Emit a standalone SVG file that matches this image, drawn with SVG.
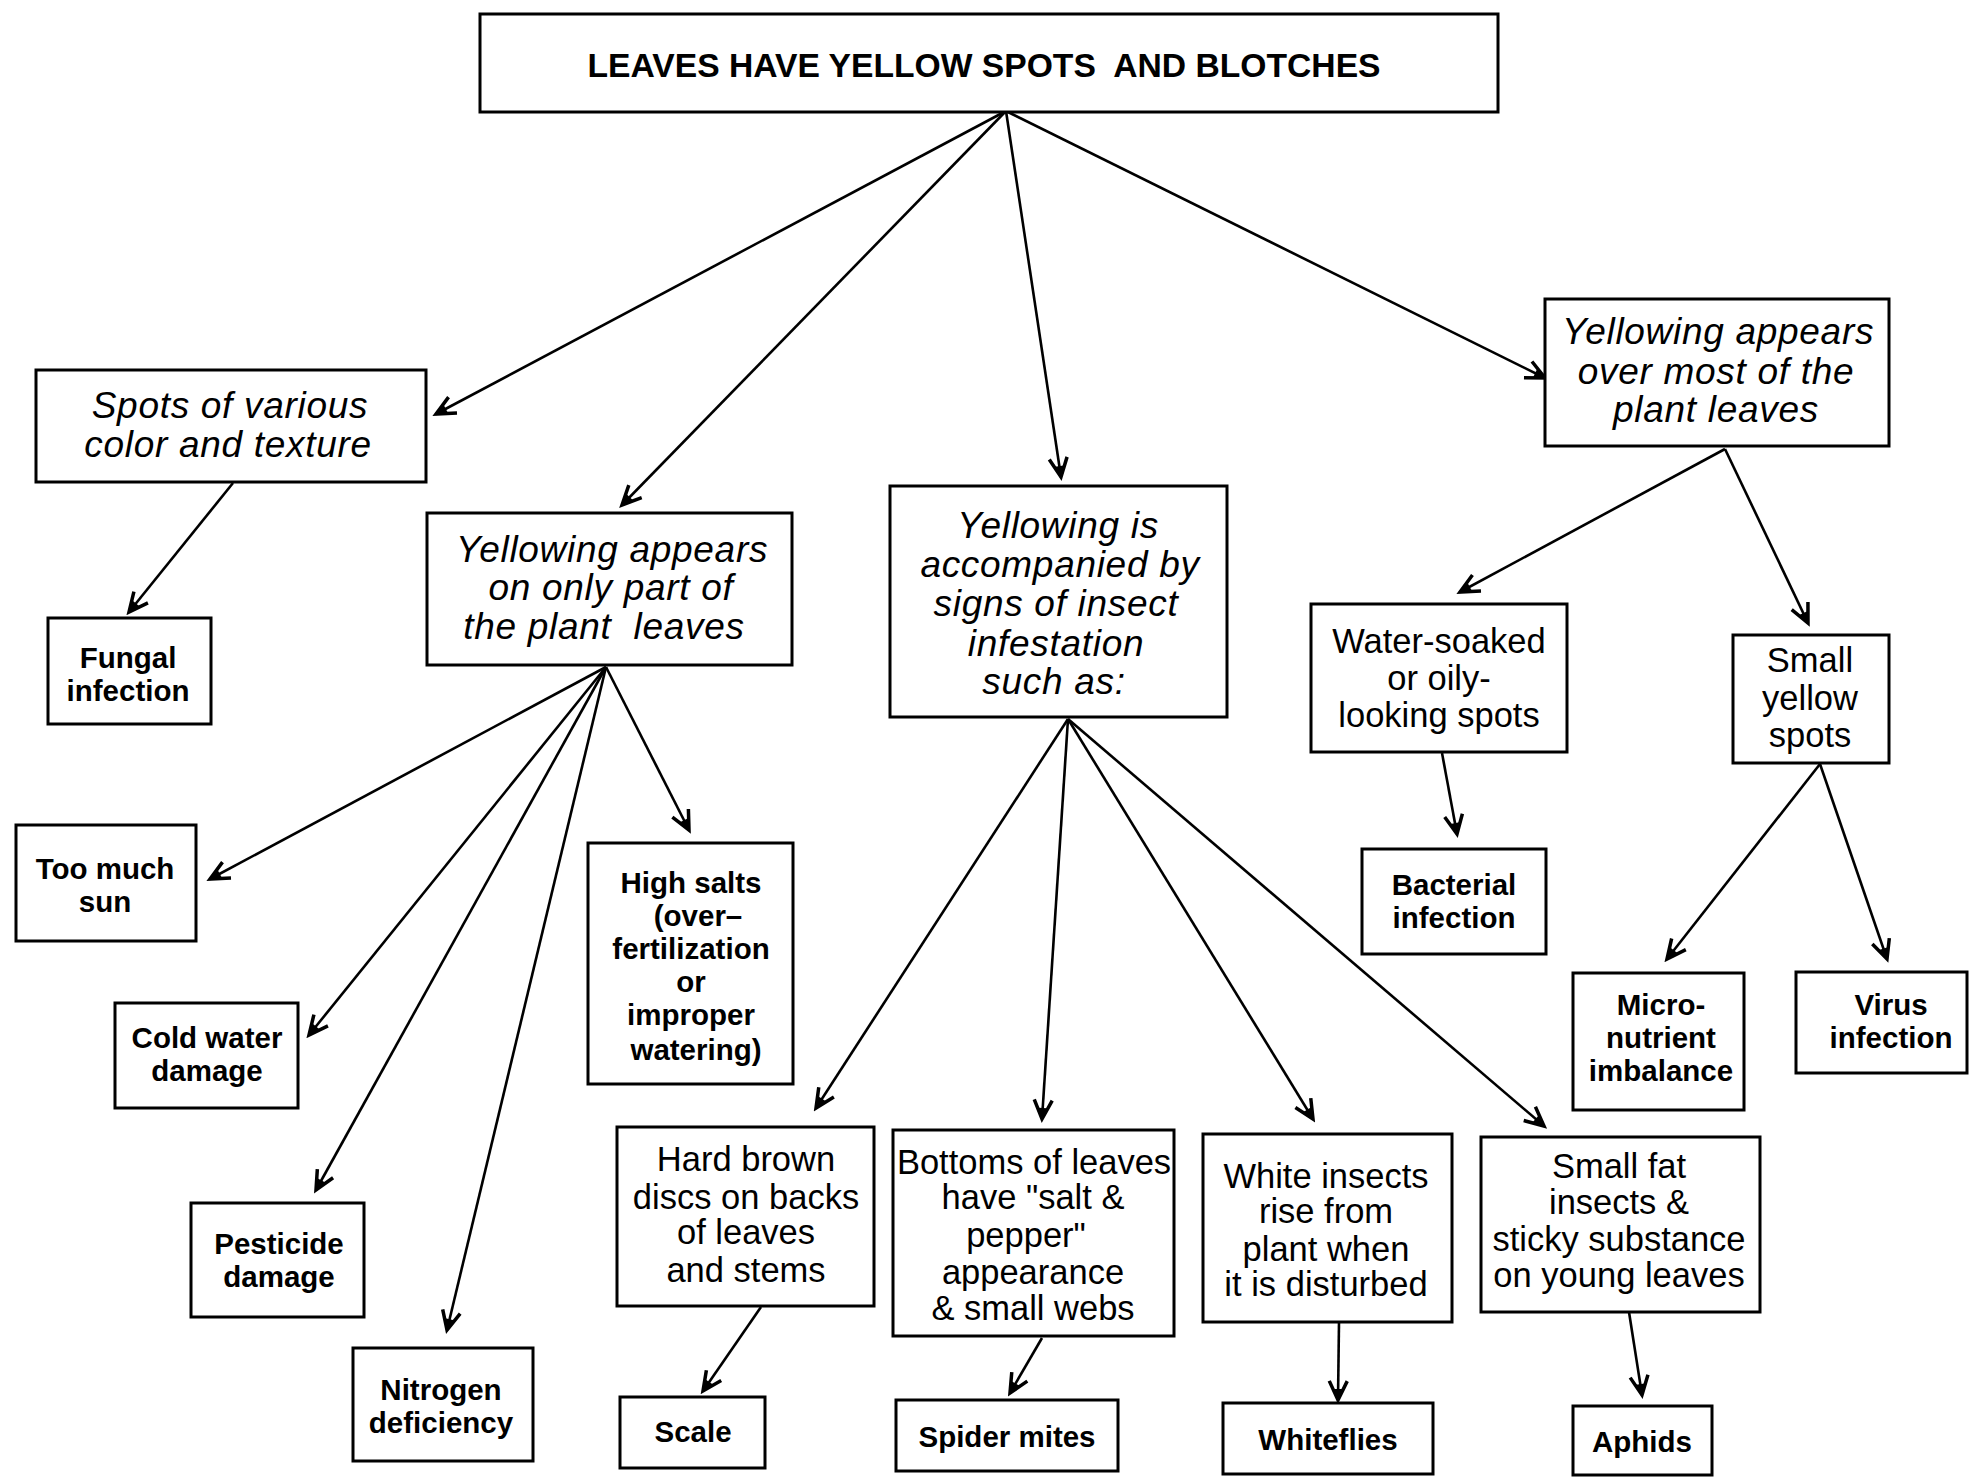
<svg xmlns="http://www.w3.org/2000/svg" width="1969" height="1477" viewBox="0 0 1969 1477">
<style>
.bg{fill:#fff}
.box{fill:#fff;stroke:#000;stroke-width:3}
.ln{stroke:#000;stroke-width:2.6;fill:none;marker-end:url(#ah)}
text{font-family:"Liberation Sans",Arial,sans-serif;fill:#000;text-anchor:middle}
.it{font-style:italic;font-size:37px;letter-spacing:0.7px}
.rg{font-size:34.5px}
.bd{font-weight:bold;font-size:29.5px}
.tt{font-weight:bold;font-size:33px}
.pre{white-space:pre}
</style>
<defs>
<marker id="ah" markerUnits="userSpaceOnUse" viewBox="-22 -12 26 24" refX="0" refY="0" markerWidth="26" markerHeight="24" orient="auto">
<path d="M-19,-9 L0,0 L-19,9" fill="none" stroke="#000" stroke-width="3.5" stroke-linejoin="miter"/>
<path d="M-11,-4.5 L0,0 L-11,4.5 Z" fill="#000"/>
</marker>
</defs>
<rect class="bg" x="0" y="0" width="1969" height="1477"/>

<g id="connectors">
<line class="ln" x1="1006" y1="111" x2="436" y2="414"/>
<line class="ln" x1="1006" y1="111" x2="622" y2="505"/>
<line class="ln" x1="1006" y1="111" x2="1061" y2="477"/>
<line class="ln" x1="1006" y1="111" x2="1545" y2="378"/>
<line class="ln" x1="233" y1="483" x2="129" y2="612"/>
<line class="ln" x1="606" y1="667" x2="210" y2="879"/>
<line class="ln" x1="606" y1="667" x2="309" y2="1035"/>
<line class="ln" x1="606" y1="667" x2="316" y2="1190"/>
<line class="ln" x1="606" y1="667" x2="447" y2="1330"/>
<line class="ln" x1="606" y1="667" x2="689" y2="830"/>
<line class="ln" x1="1068" y1="719" x2="816" y2="1108"/>
<line class="ln" x1="1068" y1="719" x2="1042" y2="1119"/>
<line class="ln" x1="1068" y1="719" x2="1313" y2="1119"/>
<line class="ln" x1="1068" y1="719" x2="1544" y2="1126"/>
<line class="ln" x1="761" y1="1307" x2="703" y2="1391"/>
<line class="ln" x1="1042" y1="1338" x2="1010" y2="1393"/>
<line class="ln" x1="1339" y1="1322" x2="1338" y2="1400"/>
<line class="ln" x1="1629" y1="1312" x2="1642" y2="1395"/>
<line class="ln" x1="1725" y1="449" x2="1460" y2="592"/>
<line class="ln" x1="1725" y1="449" x2="1808" y2="623"/>
<line class="ln" x1="1442" y1="753" x2="1457" y2="834"/>
<line class="ln" x1="1820" y1="764" x2="1667" y2="959"/>
<line class="ln" x1="1820" y1="764" x2="1887" y2="959"/>
</g>

<g id="root">
<rect class="box" x="480" y="14" width="1018" height="98"/>
<text class="tt pre" x="984" y="77" textLength="793" lengthAdjust="spacingAndGlyphs">LEAVES HAVE YELLOW SPOTS  AND BLOTCHES</text>
</g>

<g id="spots">
<rect class="box" x="36" y="370" width="390" height="112"/>
<text class="it" x="230" y="418">Spots of various</text>
<text class="it" x="228" y="457">color and texture</text>
</g>

<g id="fungal">
<rect class="box" x="48" y="618" width="163" height="106"/>
<text class="bd" x="128" y="668">Fungal</text>
<text class="bd" x="128" y="701">infection</text>
</g>

<g id="part">
<rect class="box" x="427" y="513" width="365" height="152"/>
<text class="it" x="612" y="562">Yellowing appears</text>
<text class="it" x="611" y="600">on only part of</text>
<text class="it pre" x="604" y="639">the plant  leaves</text>
</g>

<g id="insect">
<rect class="box" x="890" y="486" width="337" height="231"/>
<text class="it" x="1058" y="538">Yellowing is</text>
<text class="it" x="1060" y="577">accompanied by</text>
<text class="it" x="1056" y="616">signs of insect</text>
<text class="it" x="1056" y="656">infestation</text>
<text class="it" x="1054" y="694">such as:</text>
</g>

<g id="most">
<rect class="box" x="1545" y="299" width="344" height="147"/>
<text class="it" x="1718" y="344">Yellowing appears</text>
<text class="it" x="1716" y="384">over most of the</text>
<text class="it" x="1716" y="422">plant leaves</text>
</g>

<g id="toomuchsun">
<rect class="box" x="16" y="825" width="180" height="116"/>
<text class="bd" x="105" y="879">Too much</text>
<text class="bd" x="105" y="912">sun</text>
</g>

<g id="coldwater">
<rect class="box" x="115" y="1003" width="183" height="105"/>
<text class="bd" x="207" y="1048">Cold water</text>
<text class="bd" x="207" y="1081">damage</text>
</g>

<g id="pesticide">
<rect class="box" x="191" y="1203" width="173" height="114"/>
<text class="bd" x="279" y="1254">Pesticide</text>
<text class="bd" x="279" y="1287">damage</text>
</g>

<g id="nitrogen">
<rect class="box" x="353" y="1348" width="180" height="113"/>
<text class="bd" x="441" y="1400">Nitrogen</text>
<text class="bd" x="441" y="1433">deficiency</text>
</g>

<g id="highsalts">
<rect class="box" x="588" y="843" width="205" height="241"/>
<text class="bd" x="691" y="893">High salts</text>
<text class="bd" x="698" y="926">(over–</text>
<text class="bd" x="691" y="959">fertilization</text>
<text class="bd" x="691" y="992">or</text>
<text class="bd" x="691" y="1025">improper</text>
<text class="bd" x="696" y="1060">watering)</text>
</g>

<g id="hardbrown">
<rect class="box" x="617" y="1127" width="257" height="179"/>
<text class="rg" x="746" y="1171">Hard brown</text>
<text class="rg" x="746" y="1209">discs on backs</text>
<text class="rg" x="746" y="1244">of leaves</text>
<text class="rg" x="746" y="1282">and stems</text>
</g>

<g id="bottoms">
<rect class="box" x="893" y="1130" width="281" height="206"/>
<text class="rg" x="1034" y="1174">Bottoms of leaves</text>
<text class="rg" x="1033" y="1209">have "salt &amp;</text>
<text class="rg" x="1026" y="1247">pepper"</text>
<text class="rg" x="1033" y="1284">appearance</text>
<text class="rg" x="1033" y="1320">&amp; small webs</text>
</g>

<g id="whiteinsects">
<rect class="box" x="1203" y="1134" width="249" height="188"/>
<text class="rg" x="1326" y="1188">White insects</text>
<text class="rg" x="1326" y="1223">rise from</text>
<text class="rg" x="1326" y="1261">plant when</text>
<text class="rg" x="1326" y="1296">it is disturbed</text>
</g>

<g id="smallfat">
<rect class="box" x="1481" y="1137" width="279" height="175"/>
<text class="rg" x="1619" y="1178">Small fat</text>
<text class="rg" x="1619" y="1214">insects &amp;</text>
<text class="rg" x="1619" y="1251">sticky substance</text>
<text class="rg" x="1619" y="1287">on young leaves</text>
</g>

<g id="scale">
<rect class="box" x="620" y="1397" width="145" height="71"/>
<text class="bd" x="693" y="1442">Scale</text>
</g>

<g id="spidermites">
<rect class="box" x="896" y="1400" width="222" height="71"/>
<text class="bd" x="1007" y="1447">Spider mites</text>
</g>

<g id="whiteflies">
<rect class="box" x="1223" y="1403" width="210" height="71"/>
<text class="bd" x="1328" y="1450">Whiteflies</text>
</g>

<g id="aphids">
<rect class="box" x="1573" y="1406" width="139" height="69"/>
<text class="bd" x="1642" y="1452">Aphids</text>
</g>

<g id="watersoaked">
<rect class="box" x="1311" y="604" width="256" height="148"/>
<text class="rg" x="1439" y="653">Water-soaked</text>
<text class="rg" x="1439" y="690">or oily-</text>
<text class="rg" x="1439" y="727">looking spots</text>
</g>

<g id="smallyellow">
<rect class="box" x="1733" y="635" width="156" height="128"/>
<text class="rg" x="1810" y="672">Small</text>
<text class="rg" x="1810" y="710">yellow</text>
<text class="rg" x="1810" y="747">spots</text>
</g>

<g id="bacterial">
<rect class="box" x="1362" y="849" width="184" height="105"/>
<text class="bd" x="1454" y="895">Bacterial</text>
<text class="bd" x="1454" y="928">infection</text>
</g>

<g id="micro">
<rect class="box" x="1573" y="973" width="171" height="137"/>
<text class="bd" x="1661" y="1015">Micro-</text>
<text class="bd" x="1661" y="1048">nutrient</text>
<text class="bd" x="1661" y="1081">imbalance</text>
</g>

<g id="virus">
<rect class="box" x="1796" y="972" width="171" height="101"/>
<text class="bd" x="1891" y="1015">Virus</text>
<text class="bd" x="1891" y="1048">infection</text>
</g>
</svg>
